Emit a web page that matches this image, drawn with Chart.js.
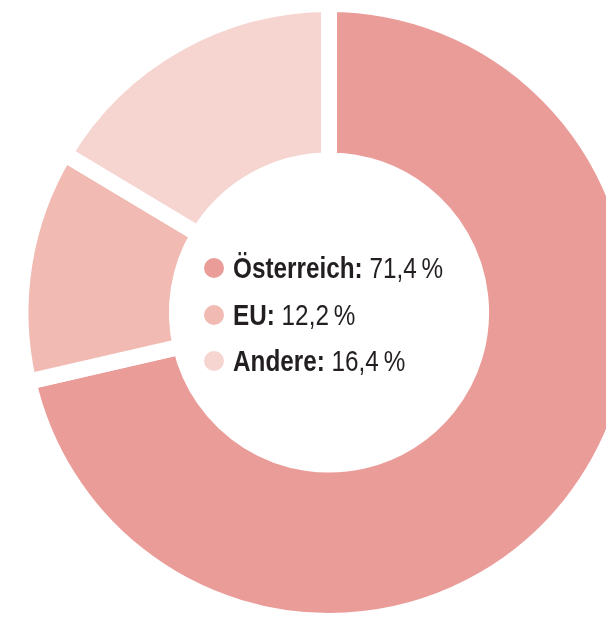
<!DOCTYPE html>
<html>
<head>
<meta charset="utf-8">
<script src="https://cdn.jsdelivr.net/npm/chart.js@4"></script>
<style>
  html, body { margin: 0; padding: 0; background: #fff; overflow: hidden; }
  #wrap { position: absolute; left: 0; top: -4px; width: 658px; height: 633px; }
  #centerLegend {
    position: absolute; left: 204px; top: 245px;
    font-family: "Liberation Sans", Arial, sans-serif;
    font-size: 30px; line-height: 46.5px; color: #231f20;
  }
  #centerLegend .row { white-space: nowrap; }
  #centerLegend .dot { display: inline-block; width: 20px; height: 20px; border-radius: 50%; margin-right: 9px; vertical-align: 0; }
  #centerLegend .txt { display: inline-block; transform: scaleX(0.81); transform-origin: left center; }
  #centerLegend b { font-weight: bold; }
</style>
</head>
<body>
<div id="wrap"><canvas id="myChart" width="658" height="633"></canvas></div>
<div id="centerLegend"></div>
<script>
// data
var labels = ['Österreich', 'EU', 'Andere'];
var shares = [71.4, 12.2, 16.4];
var colors = ['#ea9c99', '#f1bab3', '#f6d5d0'];

// legend in the hole
var legendBox = document.getElementById('centerLegend');
labels.forEach(function(label, i) {
    var row = document.createElement('div');
    row.className = 'row';
    var dot = document.createElement('span');
    dot.className = 'dot';
    dot.style.background = colors[i];
    row.appendChild(dot);
    var txt = document.createElement('span');
    txt.className = 'txt';
    var name = document.createElement('b');
    name.textContent = label + ':';
    txt.appendChild(name);
    txt.appendChild(document.createTextNode(' ' + shares[i].toFixed(1).replace('.', ',') + '\u2009%'));
    row.appendChild(txt);
    legendBox.appendChild(row);
});

var ctx = document.getElementById('myChart').getContext('2d');
var myChart = new Chart(ctx, {
    type: 'doughnut',
    data: {
        labels: labels,
        datasets: [{
            data: shares,
            backgroundColor: colors,
            borderColor: '#ffffff',
            borderWidth: 16,
            borderJoinStyle: 'miter',
            hoverOffset: 0
        }]
    },
    options: {
        responsive: false,
        maintainAspectRatio: false,
        animation: false,
        cutout: '49.3%',
        plugins: {
            legend: { display: false },
            tooltip: { enabled: false }
        }
    }
});
</script>
</body>
</html>
